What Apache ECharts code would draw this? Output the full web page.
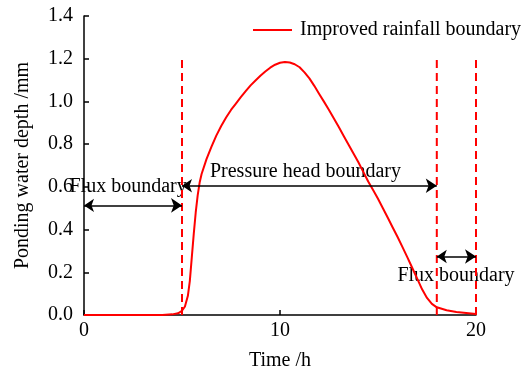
<!DOCTYPE html>
<html>
<head>
<meta charset="utf-8">
<script src="https://cdn.jsdelivr.net/npm/echarts@6/dist/echarts.min.js"></script>
<style>
  html, body { margin: 0; padding: 0; background: #fff; }
  #chart { width: 524px; height: 376px; }
</style>
</head>
<body>
<div id="chart"></div>
<script>
// Ponding water depth over time (improved rainfall boundary)
const timeH = [
  0, 1, 2, 3, 4, 4.5, 4.8, 5.0, 5.15, 5.3, 5.4, 5.5, 5.6, 5.7, 5.8, 5.9, 6.0,
  6.25, 6.5, 6.75, 7.0, 7.25, 7.5, 7.75, 8.0, 8.25, 8.5, 8.75, 9.0, 9.25, 9.5, 9.75,
  10.0, 10.25, 10.5, 10.75, 11.0, 11.25, 11.5, 11.75, 12.0, 12.25, 12.5, 12.75,
  13.0, 13.25, 13.5, 13.75, 14.0, 14.25, 14.5, 14.75, 15.0, 15.25, 15.5, 15.75,
  16.0, 16.25, 16.5, 16.75, 17.0, 17.25, 17.5, 17.75, 18.0, 18.5, 19.0, 19.5, 20.0
];
const depthMm = [
  0, 0, 0, 0, 0, 0.003, 0.008, 0.02, 0.04, 0.09, 0.16, 0.27, 0.38, 0.48, 0.56, 0.62, 0.66,
  0.73, 0.787, 0.84, 0.885, 0.925, 0.96, 0.99, 1.02, 1.048, 1.075, 1.098, 1.12, 1.14, 1.158, 1.172,
  1.181, 1.185, 1.182, 1.174, 1.16, 1.136, 1.108, 1.073, 1.035, 0.998, 0.96, 0.92,
  0.88, 0.838, 0.797, 0.756, 0.715, 0.67, 0.625, 0.585, 0.544, 0.5, 0.455, 0.41,
  0.365, 0.318, 0.27, 0.22, 0.17, 0.12, 0.08, 0.052, 0.036, 0.022, 0.014, 0.009, 0.005
];

// Times where the boundary condition switches, and the height of the dashed markers
const switchTimes = [5, 18, 20];
const switchTop = 1.2;

// Boundary spans: [start, end, depth level of the double arrow]
const spanStart = [0, 5, 18];
const spanEnd = [5, 18, 20];
const spanLevel = [0.513, 0.605, 0.274];

// Annotation texts and their anchor points in data units
const noteText = ['Flux boundary', 'Pressure head boundary', 'Flux boundary'];
const noteTime = [2.25, 11.3, 18.98];
const noteDepth = [0.6, 0.67, 0.186];

const yTicks = [0, 0.2, 0.4, 0.6, 0.8, 1.0, 1.2, 1.4];

const FONT = '"Liberation Serif", "Times New Roman", serif';
const FS = 20;
const chart = echarts.init(document.getElementById('chart'));

const seriesList = [
  {
    name: 'Improved rainfall boundary',
    type: 'line',
    data: timeH.map((t, i) => [t, depthMm[i]]),
    symbol: 'none',
    smooth: false,
    lineStyle: { color: '#ff0000', width: 2, join: 'round' },
    itemStyle: { color: '#ff0000' },
    z: 5
  }
];

switchTimes.forEach(t => {
  seriesList.push({
    type: 'line',
    data: [[t, 0], [t, switchTop]],
    symbol: 'none',
    silent: true,
    lineStyle: { color: '#ff0000', width: 2, type: [8, 5] },
    z: 4
  });
});

seriesList.push({
  type: 'lines',
  coordinateSystem: 'cartesian2d',
  silent: true,
  symbol: ['arrow', 'arrow'],
  symbolSize: [10, 11],
  lineStyle: { color: '#000', width: 1.5, opacity: 1 },
  itemStyle: { color: '#000' },
  data: spanStart.map((s, i) => ({ coords: [[s, spanLevel[i]], [spanEnd[i], spanLevel[i]]] })),
  z: 6
});

seriesList.push({
  type: 'scatter',
  silent: true,
  symbolSize: 0,
  itemStyle: { opacity: 1 },
  data: noteText.map((txt, i) => ({ name: txt, value: [noteTime[i], noteDepth[i]] })),
  label: {
    show: true,
    position: 'inside',
    formatter: p => p.name,
    color: '#000',
    opacity: 1,
    textBorderWidth: 0,
    fontSize: FS,
    fontFamily: FONT
  },
  z: 3
});

chart.setOption({
  animation: false,
  backgroundColor: '#fff',
  grid: { left: 84, right: 48, top: 16, bottom: 59 },
  legend: {
    data: [{ name: 'Improved rainfall boundary', icon: 'rect' }],
    left: 248,
    top: 15,
    itemWidth: 39,
    itemHeight: 2,
    itemStyle: { color: '#ff0000' },
    textStyle: { fontSize: FS, fontFamily: FONT, color: '#000', padding: [0, 0, 0, 3] }
  },
  xAxis: {
    type: 'value',
    min: 0,
    max: 20,
    interval: 10,
    name: 'Time /h',
    nameLocation: 'middle',
    nameGap: 36,
    nameTextStyle: { fontSize: FS, fontFamily: FONT, color: '#000' },
    axisLine: { lineStyle: { color: '#000', width: 1.5 } },
    axisTick: { inside: true, length: 5, lineStyle: { color: '#000', width: 1.5 } },
    axisLabel: { fontSize: FS, fontFamily: FONT, color: '#000', margin: 6 },
    splitLine: { show: false }
  },
  yAxis: {
    type: 'value',
    min: yTicks[0],
    max: yTicks[yTicks.length - 1],
    interval: 0.2,
    name: 'Ponding water depth /mm',
    nameLocation: 'middle',
    nameGap: 51,
    nameTextStyle: { fontSize: FS, fontFamily: FONT, color: '#000' },
    axisLine: { show: true, lineStyle: { color: '#000', width: 1.5 } },
    axisTick: { show: true, inside: true, length: 5, lineStyle: { color: '#000', width: 1.5 } },
    axisLabel: { fontSize: FS, fontFamily: FONT, color: '#000', margin: 11, formatter: v => v.toFixed(1) },
    splitLine: { show: false }
  },
  series: seriesList
});
</script>
</body>
</html>
